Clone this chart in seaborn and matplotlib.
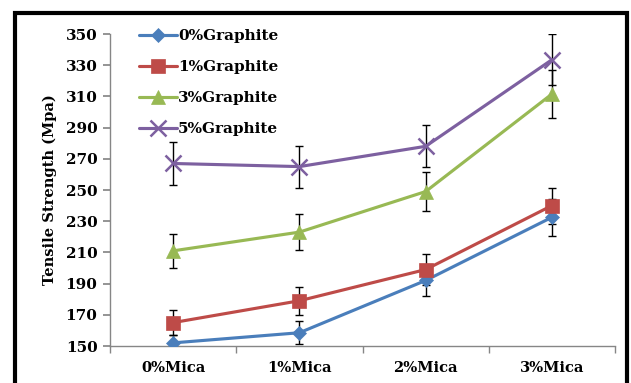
import matplotlib
matplotlib.use("Agg")
import matplotlib.pyplot as plt
from matplotlib.patches import Rectangle
import numpy as np
import pandas as pd
import seaborn as sns

# Mica loadings (x categories) and graphite series
mica = ["0%Mica", "1%Mica", "2%Mica", "3%Mica"]
series = ["0%Graphite", "1%Graphite", "3%Graphite", "5%Graphite"]

# Mean tensile strength (MPa) for each graphite level
g0 = [152, 158.5, 192, 232.5]
g1 = [165, 179, 199, 240]
g3 = [211, 223, 249, 311.5]
g5 = [267, 265, 278, 333.5]

# Error bar half-widths (MPa)
e0 = [5, 7.5, 10, 12]
e1 = [8, 9, 10, 11.5]
e3 = [11, 11.5, 12.5, 15.5]
e5 = [13.5, 13.5, 13.5, 16.5]

y_ticks = [150, 170, 190, 210, 230, 250, 270, 290, 310, 330, 350]

colors = ["#4A7EBB", "#BE4B48", "#98B954", "#7D60A0"]
markers = ["D", "s", "^", "x"]
msizes = [7, 10, 10, 11]

sns.set_theme(style="white")
plt.rcParams["font.family"] = ["DejaVu Serif"]
plt.rcParams["text.color"] = "black"
plt.rcParams["axes.labelcolor"] = "black"
plt.rcParams["xtick.labelcolor"] = "black"
plt.rcParams["ytick.labelcolor"] = "black"

fig = plt.figure(figsize=(6.31, 3.83), dpi=100)
ax = fig.add_axes([110 / 631, 1 - 346 / 383, (615 - 110) / 631, (346 - 34) / 383])

means = [g0, g1, g3, g5]
errs = [e0, e1, e3, e5]
rows = []
for name, vals in zip(series, means):
    for i, v in enumerate(vals):
        rows.append({"pos": i, "strength": v, "series": name})
df = pd.DataFrame(rows)

x = np.arange(len(mica))
# error bars drawn beneath the lines
for vals, er in zip(means, errs):
    ax.errorbar(x, vals, yerr=er, fmt="none", ecolor="black", elinewidth=1,
                capsize=3, capthick=1, zorder=1)

for name, c, m, ms in zip(series, colors, markers, msizes):
    sub = df[df["series"] == name]
    sns.lineplot(data=sub, x="pos", y="strength", ax=ax, color=c, marker=m,
                 markersize=ms, linewidth=2.25, markeredgecolor=c,
                 markeredgewidth=1.8 if m == "x" else 0.5, label=name, zorder=3)

ax.set_xlim(-0.5, 3.5)
ax.set_ylim(150, 350)
ax.set_yticks(y_ticks)
ax.set_yticklabels([str(t) for t in y_ticks], fontsize=11, fontweight="bold")
ax.set_xticks(x)
ax.set_xticklabels(mica, fontsize=10.5, fontweight="bold")
ax.set_xticks(np.arange(-0.5, 4, 1), minor=True)
ax.tick_params(axis="x", which="major", length=0, pad=11)
ax.tick_params(axis="x", which="minor", length=5, color="#868686", direction="out", bottom=True)
ax.tick_params(axis="y", length=5, color="#868686", direction="out", left=True, pad=4)
ax.set_xlabel("")
ax.set_ylabel("Tensile Strength (Mpa)", fontsize=10.5, fontweight="bold", labelpad=6)

for side in ["top", "right"]:
    ax.spines[side].set_visible(False)
for side in ["left", "bottom"]:
    ax.spines[side].set_color("#868686")
    ax.spines[side].set_linewidth(1)

leg = ax.legend(loc="upper left", bbox_to_anchor=(0.03, 1.06), frameon=False,
                prop={"weight": "bold", "size": 11}, handlelength=2.5,
                handletextpad=0.05, labelspacing=1.12)

# outer frame around the figure
fig.patches.append(Rectangle((14.5 / 631, -0.1), (626.5 - 14.5) / 631, 1.1 - 13.5 / 383,
                             transform=fig.transFigure, fill=False,
                             edgecolor="black", linewidth=3))

fig.savefig("out.png", dpi=100)
